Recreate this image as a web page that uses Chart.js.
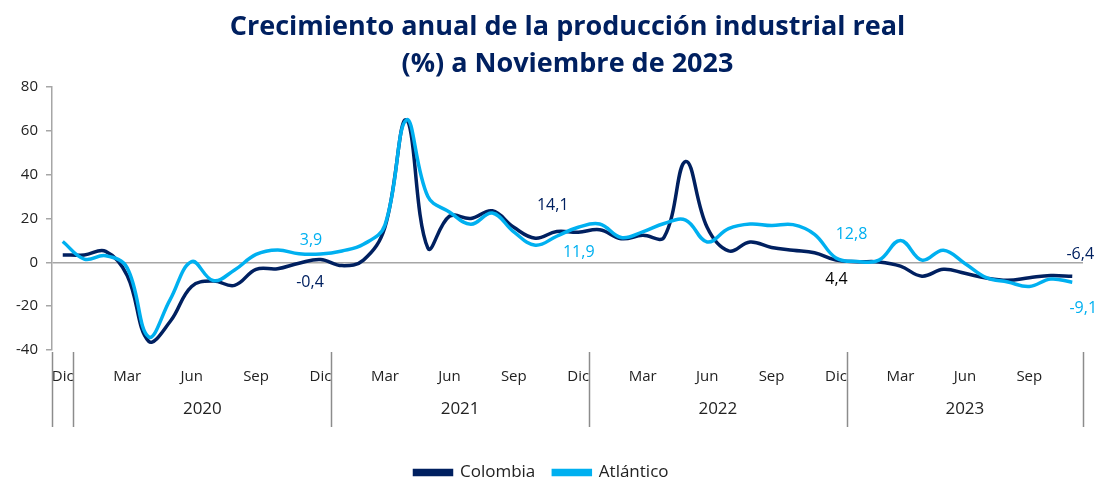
<!DOCTYPE html>
<html>
<head>
<meta charset="utf-8">
<script src="https://cdn.jsdelivr.net/npm/chart.js@4.4.0/dist/chart.umd.min.js"></script>
<style>
  html, body { margin: 0; padding: 0; background: #fff; }
  #wrap { width: 1103px; height: 482px; }
</style>
</head>
<body>
<div id="wrap"><canvas id="chart" width="1103" height="482"></canvas></div>
<script>
// months Dic 2019 .. Nov 2023
const monthNames = ['Ene', 'Feb', 'Mar', 'Abr', 'May', 'Jun', 'Jul', 'Ago', 'Sep', 'Oct', 'Nov', 'Dic'];
const years = ['2020', '2021', '2022', '2023'];

const colombia = [
  3.4,
  3.4, 5.0, -6.0, -36.0, -27.0, -11.0, -8.5, -10.5, -3.2, -2.9, -0.4, 1.3,
  -1.5, 1.0, 16.0, 65.0, 6.5, 21.0, 20.0, 23.5, 16.0, 11.0, 14.1, 13.7,
  14.9, 10.8, 12.3, 11.5, 46.0, 16.0, 5.2, 9.3, 6.8, 5.5, 4.4, 1.0,
  0.3, 0.2, -1.7, -6.3, -3.2, -5.0, -7.2, -8.2, -7.0, -6.0, -6.4
];
const atlantico = [
  9.5,
  1.5, 3.0, -2.5, -34.0, -17.0, 0.3, -8.3, -3.5, 3.6, 5.6, 3.9, 3.8,
  5.2, 8.2, 17.0, 65.0, 30.0, 23.0, 17.4, 22.5, 13.9, 7.8, 11.9, 16.0,
  17.5, 11.3, 13.9, 17.7, 19.3, 9.3, 15.4, 17.5, 16.8, 17.2, 12.8, 2.0,
  0.4, 1.0, 10.0, 1.0, 5.5, -0.5, -7.0, -9.0, -11.0, -7.6, -9.1
];
const yTicks = [80, 60, 40, 20, 0, -20, -40];

const categories = ['Dic'];
years.forEach((y, k) => monthNames.forEach((m, j) => {
  if (k < years.length - 1 || j < 11) categories.push(m);
}));

const navy = '#002060';
const cyan = '#00b0f0';
const grey = '#a6a6a6';
const font = 'Open Sans';

// value notes shown for November of each year
const notes = [
  { ds: 0, i: 11, color: navy, dx: 11, dy: 19 },
  { ds: 1, i: 11, color: cyan, dx: 12, dy: -13 },
  { ds: 0, i: 23, color: navy, dx: -4, dy: -26 },
  { ds: 1, i: 23, color: cyan, dx: 22, dy: 16 },
  { ds: 1, i: 35, color: cyan, dx: 37, dy: 0 },
  { ds: 0, i: 35, color: '#000', dx: 22, dy: 27 },
  { ds: 0, i: 47, color: navy, dx: 8, dy: -22 },
  { ds: 1, i: 47, color: cyan, dx: 11, dy: 26 }
];

const valueNotes = {
  id: 'valueNotes',
  afterDatasetsDraw(chart) {
    const ctx = chart.ctx;
    ctx.save();
    ctx.font = '16px "' + font + '"';
    ctx.textAlign = 'center';
    ctx.textBaseline = 'middle';
    notes.forEach(n => {
      const pt = chart.getDatasetMeta(n.ds).data[n.i];
      const v = chart.data.datasets[n.ds].data[n.i];
      ctx.fillStyle = n.color;
      ctx.fillText(v.toFixed(1).replace('.', ','), pt.x + n.dx, pt.y + n.dy);
    });
    ctx.restore();
  }
};

// year groups under the month labels
const yearGroups = {
  id: 'yearGroups',
  afterDraw(chart) {
    const x = chart.scales.x, ctx = chart.ctx;
    const half = (x.getPixelForValue(1) - x.getPixelForValue(0)) / 2;
    const edge = i => x.getPixelForValue(i) + half;
    const cuts = [-1, 0, 12, 24, 36, categories.length - 1];
    ctx.save();
    ctx.strokeStyle = '#8c8c8c';
    ctx.lineWidth = 1.5;
    cuts.forEach(c => {
      const px = Math.round(edge(c)) + 0.5;
      ctx.beginPath();
      ctx.moveTo(px, x.top + 2);
      ctx.lineTo(px, x.top + 77);
      ctx.stroke();
    });
    ctx.fillStyle = '#222';
    ctx.font = '17px "' + font + '"';
    ctx.textAlign = 'center';
    ctx.textBaseline = 'middle';
    years.forEach((y, k) => {
      const mid = (edge(cuts[k + 1]) + edge(cuts[k + 2])) / 2;
      ctx.fillText(y, mid, x.top + 59);
    });
    ctx.restore();
  }
};

new Chart(document.getElementById('chart'), {
  type: 'line',
  data: {
    labels: categories,
    datasets: [
      { label: 'Colombia', data: colombia, borderColor: navy, backgroundColor: navy,
        borderWidth: 3.5, pointRadius: 0, tension: 0.4, order: 1 },
      { label: 'Atlántico', data: atlantico, borderColor: cyan, backgroundColor: cyan,
        borderWidth: 3.5, pointRadius: 0, tension: 0.4, order: 0 }
    ]
  },
  options: {
    responsive: false,
    animation: false,
    layout: { padding: { left: 0, right: 20, top: 0, bottom: -9 } },
    plugins: {
      title: {
        display: true,
        fullSize: false,
        text: ['Crecimiento anual de la producción industrial real', '(%) a Noviembre de 2023'],
        color: navy,
        font: { family: 'Open Sans', size: 27, weight: 'bold', lineHeight: 1.4 },
        padding: { top: 8, bottom: 3.4 }
      },
      legend: {
        position: 'bottom',
        labels: {
          boxWidth: 37, boxHeight: 4, padding: 18, color: '#222',
          font: { family: font, size: 17 },
          sort: (a, b) => a.datasetIndex - b.datasetIndex
        }
      },
      tooltip: { enabled: false }
    },
    scales: {
      x: {
        offset: true,
        grid: { display: false, drawTicks: false },
        border: { display: false },
        ticks: {
          autoSkip: false, maxRotation: 0, padding: 18, color: '#222',
          font: { family: font, size: 15 },
          callback: (v, i) => (i % 3 === 0 ? categories[i] : '')
        },
        afterFit: s => { s.height = 96; }
      },
      y: {
        min: -40, max: 80,
        afterBuildTicks: s => { s.ticks = yTicks.map(v => ({ value: v })); },
        grid: {
          color: c => (c.tick && c.tick.value === 0 ? grey : 'rgba(0,0,0,0)'),
          tickColor: grey, tickLength: 6, lineWidth: 1.5
        },
        border: { display: true, color: grey, width: 1.5 },
        ticks: { padding: 8, color: '#222', font: { family: font, size: 15 } },
        afterFit: s => { s.width = 52; }
      }
    }
  },
  plugins: [valueNotes, yearGroups]
});
</script>
</body>
</html>
